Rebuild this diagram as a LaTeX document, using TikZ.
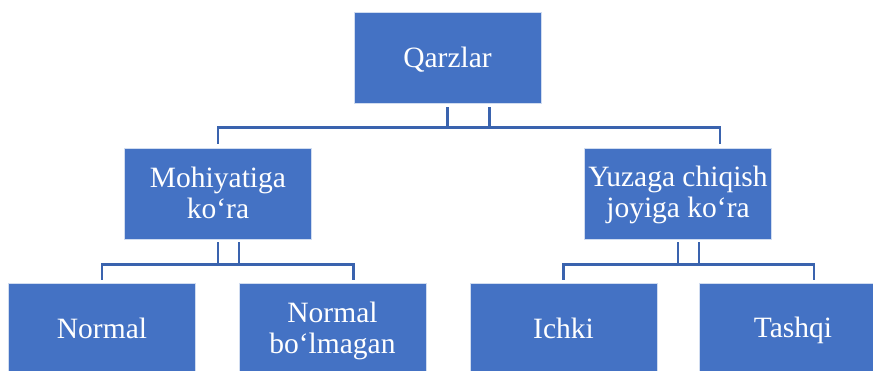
\documentclass[tikz,border=0pt]{standalone}
\usepackage{fontspec}
\setmainfont{Liberation Serif}
\usetikzlibrary{calc}
\definecolor{boxblue}{HTML}{4472C4}
\definecolor{linkblue}{HTML}{3A63AE}
\newcommand{\bstrut}{\rule[-5pt]{0pt}{29pt}}
\begin{document}
\begin{tikzpicture}[x=1pt,y=-1pt,
  box/.style={draw=white!75!boxblue,line width=0.8pt,fill=boxblue,text=white,
    minimum width=187pt,minimum height=91pt,inner sep=0pt,align=center,
    font=\fontsize{29.5}{31}\selectfont},
  lowbox/.style={box,minimum height=92pt},
  conn/.style={draw=linkblue,line width=2.6pt}]
\useasboundingbox (0,0) rectangle (873,370);
\clip (0,0) rectangle (873,370);
\node[box] (q) at (447.5,57.5) {\bstrut Qarzlar};
\node[box] (m) at (218,193.5) {\bstrut Mohiyatiga\\\bstrut ko‘ra};
\node[box] (yz) at (678,193.5) {\bstrut Yuzaga chiqish\\\bstrut joyiga ko‘ra};
\node[lowbox] (n1) at (102,329) {\bstrut Normal};
\node[lowbox] (n2) at (332.5,329) {\bstrut Normal\\\bstrut bo‘lmagan};
\node[lowbox] (i) at (563.5,329) {\bstrut Ichki};
\node[lowbox] (t) at (793,329) {\bstrut Tashqi};
% top level connectors
\draw[conn] ($(q.south)+(0,4)$) -- ($(q.south)+(0,25)$);
\draw[conn] ($(q.south)+(42,4)$) -- ($(q.south)+(42,25)$);
\draw[conn] ($(m.north)+(0,-4)$) |- ($(yz.north)+(42,-20)$) -- ($(yz.north)+(42,-4)$);
% left branch
\draw[conn] ($(m.south)+(0,3)$) -- ($(m.south)+(0,25)$);
\draw[conn] ($(m.south)+(21,3)$) -- ($(m.south)+(21,25)$);
\draw[conn] ($(n1.north)+(0,-3)$) |- ($(n2.north)+(21,-18)$) -- ($(n2.north)+(21,-3)$);
% right branch
\draw[conn] ($(yz.south)+(0,3)$) -- ($(yz.south)+(0,25)$);
\draw[conn] ($(yz.south)+(21,3)$) -- ($(yz.south)+(21,25)$);
\draw[conn] ($(i.north)+(0,-3)$) |- ($(t.north)+(21,-18)$) -- ($(t.north)+(21,-3)$);
\end{tikzpicture}
\end{document}
